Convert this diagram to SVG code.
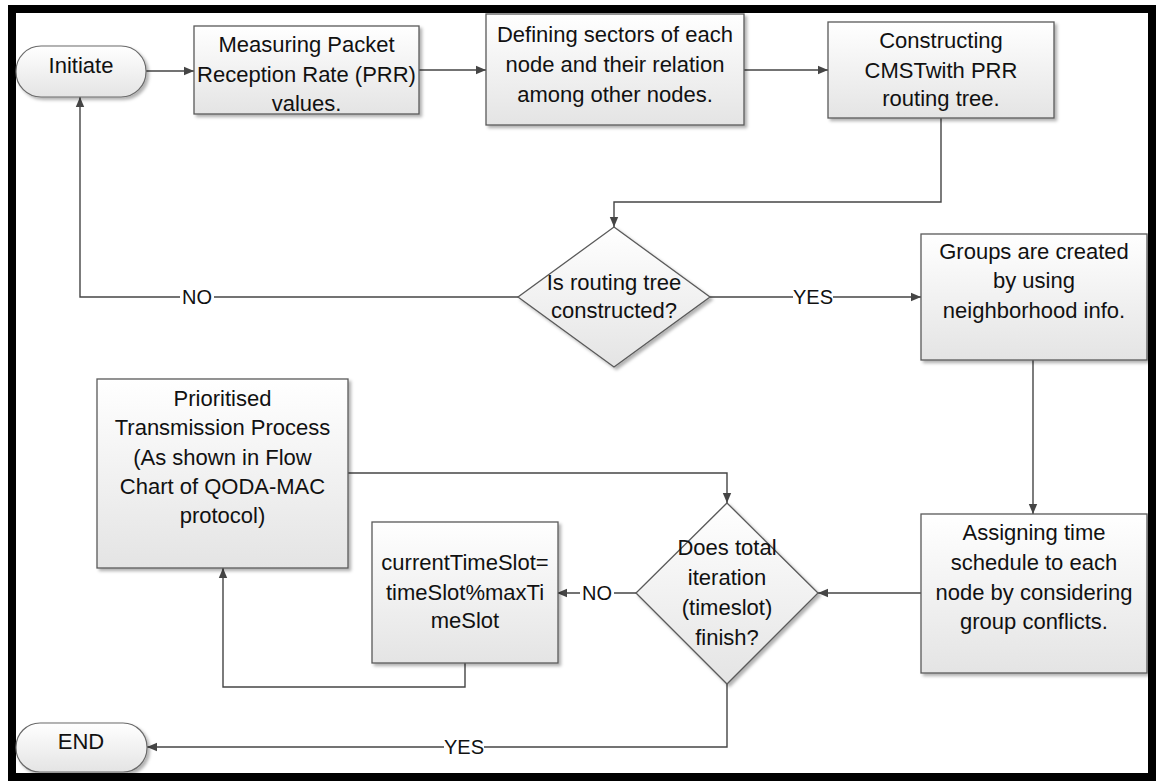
<svg xmlns="http://www.w3.org/2000/svg" width="1160" height="783" viewBox="0 0 1160 783">
<style>
.box{fill:url(#g);stroke:#5a5a5a;stroke-width:1.3;filter:url(#sh)}
.term{fill:url(#g);stroke:#6a6a6a;stroke-width:1.2;filter:url(#sh)}
.t{font-family:"Liberation Sans",Arial,sans-serif;font-size:22px;fill:#111;text-anchor:middle}
.lbl{font-family:"Liberation Sans",Arial,sans-serif;font-size:20px;fill:#111;text-anchor:middle}
.c{fill:none;stroke:#454545;stroke-width:1.4;marker-end:url(#ah)}
.bg{fill:#fff}
</style>
<defs>
<linearGradient id="g" x1="0" y1="0" x2="0" y2="1">
<stop offset="0" stop-color="#ffffff"/>
<stop offset="1" stop-color="#e4e4e4"/>
</linearGradient>
<filter id="sh" x="-10%" y="-10%" width="130%" height="130%">
<feDropShadow dx="2.5" dy="2.5" stdDeviation="1.5" flood-color="#000" flood-opacity="0.3"/>
</filter>
<marker id="ah" markerUnits="userSpaceOnUse" markerWidth="11" markerHeight="10" refX="10" refY="5" orient="auto">
<path d="M0,0.8 L10,5 L0,9.2 z" fill="#454545"/>
</marker>
</defs>
<rect x="0" y="0" width="1160" height="783" fill="#fff"/>
<rect x="12" y="9" width="1140" height="768" fill="none" stroke="#000" stroke-width="8"/>

<g id="connectors">
<path class="c" d="M146,71 H194"/>
<path class="c" d="M419,70 H486"/>
<path class="c" d="M744,70 H828"/>
<path class="c" d="M941,118 V202 H614 V227"/>
<path class="c" d="M518,297 H80 V97"/>
<path class="c" d="M710,297 H921"/>
<path class="c" d="M1033,360 V514"/>
<path class="c" d="M921,593 H818"/>
<path class="c" d="M636,593 H557"/>
<path class="c" d="M465,663 V687 H223 V568"/>
<path class="c" d="M348,473 H727 V503"/>
<path class="c" d="M727,684 V747 H147"/>
<rect class="bg" x="180" y="285" width="34" height="24"/>
<text class="lbl" x="197" y="304">NO</text>
<rect class="bg" x="793" y="285" width="40" height="24"/>
<text class="lbl" x="813" y="304">YES</text>
<rect class="bg" x="580" y="581" width="34" height="24"/>
<text class="lbl" x="597" y="600">NO</text>
<rect class="bg" x="444" y="735" width="40" height="24"/>
<text class="lbl" x="464" y="754">YES</text>
</g>

<g id="initiate">
<rect class="term" x="16" y="46" width="130" height="51" rx="25" ry="25"/>
<text class="t" x="81" y="73">Initiate</text>
</g>

<g id="measuring">
<rect class="box" x="194" y="26" width="225" height="88"/>
<text class="t" x="306.5" y="52">Measuring Packet</text>
<text class="t" x="306.5" y="82">Reception Rate (PRR)</text>
<text class="t" x="306.5" y="111">values.</text>
</g>

<g id="defining">
<rect class="box" x="486" y="14" width="258" height="111"/>
<text class="t" x="615" y="42">Defining sectors of each</text>
<text class="t" x="615" y="72">node and their relation</text>
<text class="t" x="615" y="102">among other nodes.</text>
</g>

<g id="constructing">
<rect class="box" x="828" y="22" width="226" height="96"/>
<text class="t" x="941" y="48">Constructing</text>
<text class="t" x="941" y="78">CMSTwith PRR</text>
<text class="t" x="941" y="106">routing tree.</text>
</g>

<g id="decision-tree">
<polygon class="box" points="614,227 710,297 614,367 518,297"/>
<text class="t" x="614" y="290">Is routing tree</text>
<text class="t" x="614" y="318">constructed?</text>
</g>

<g id="groups">
<rect class="box" x="921" y="234" width="226" height="126"/>
<text class="t" x="1034" y="259">Groups are created</text>
<text class="t" x="1034" y="288">by using</text>
<text class="t" x="1034" y="318">neighborhood info.</text>
</g>

<g id="assigning">
<rect class="box" x="921" y="514" width="226" height="159"/>
<text class="t" x="1034" y="540">Assigning time</text>
<text class="t" x="1034" y="570">schedule to each</text>
<text class="t" x="1034" y="600">node by considering</text>
<text class="t" x="1034" y="629">group conflicts.</text>
</g>

<g id="decision-iteration">
<polygon class="box" points="727,503 818,593 727,684 636,593"/>
<text class="t" x="727" y="555">Does total</text>
<text class="t" x="727" y="585">iteration</text>
<text class="t" x="727" y="615">(timeslot)</text>
<text class="t" x="727" y="645">finish?</text>
</g>

<g id="current-timeslot">
<rect class="box" x="372" y="522" width="186" height="141"/>
<text class="t" x="465" y="570">currentTimeSlot=</text>
<text class="t" x="465" y="600">timeSlot%maxTi</text>
<text class="t" x="465" y="628">meSlot</text>
</g>

<g id="prioritised">
<rect class="box" x="97" y="379" width="251" height="189"/>
<text class="t" x="222.5" y="406">Prioritised</text>
<text class="t" x="222.5" y="435">Transmission Process</text>
<text class="t" x="222.5" y="465">(As shown in Flow</text>
<text class="t" x="222.5" y="494">Chart of QODA-MAC</text>
<text class="t" x="222.5" y="523">protocol)</text>
</g>

<g id="end">
<rect class="term" x="16" y="723" width="131" height="49" rx="24" ry="24"/>
<text class="t" x="81" y="749">END</text>
</g>
</svg>
